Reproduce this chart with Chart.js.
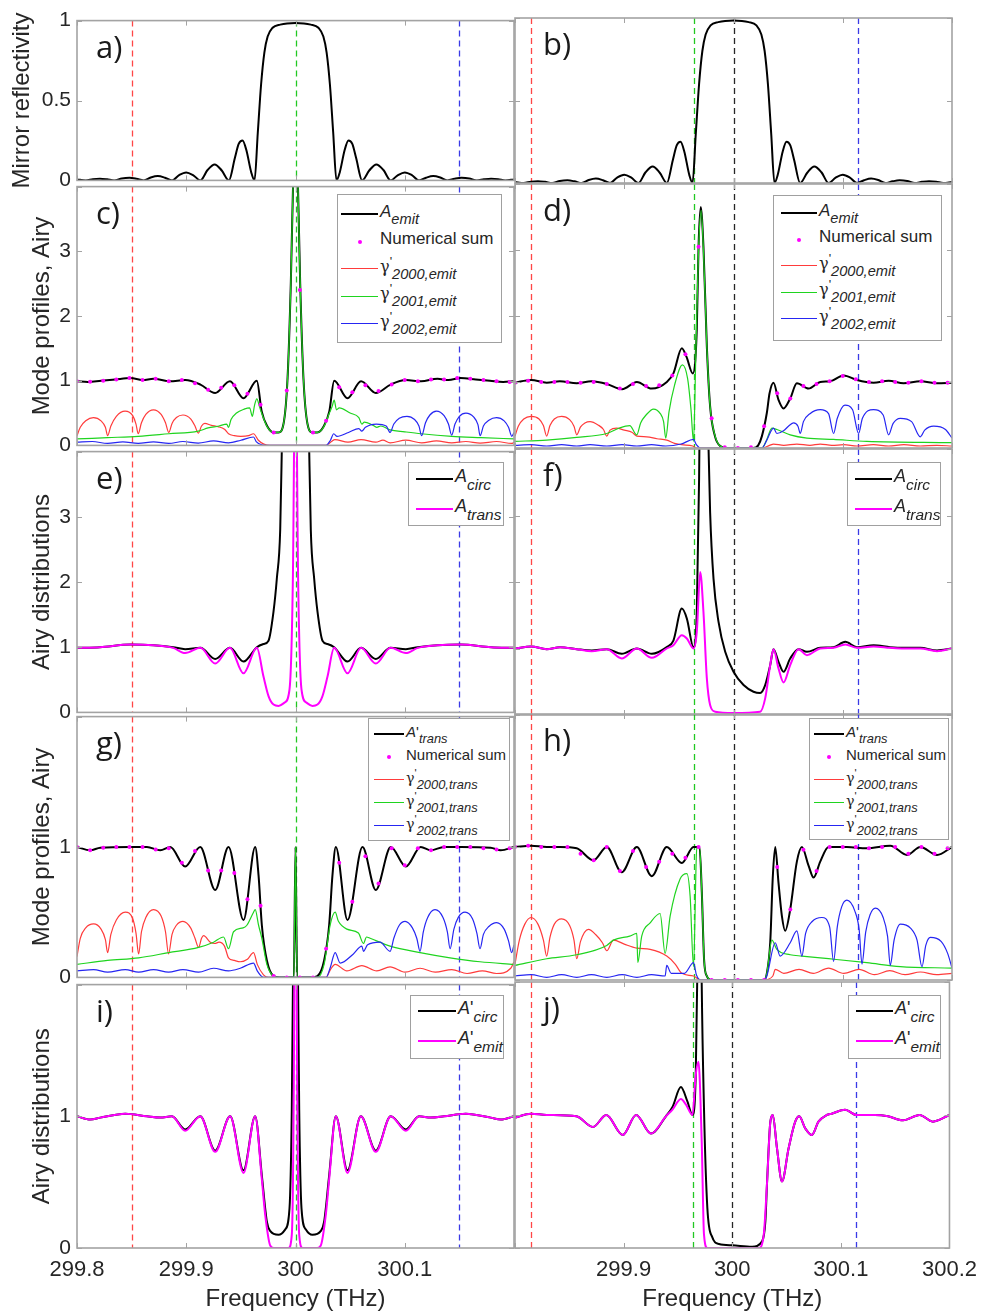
<!DOCTYPE html>
<html>
<head>
<meta charset="utf-8">
<script src="https://cdn.jsdelivr.net/npm/chart.js@4.4.1/dist/chart.umd.min.js"></script>
<style>
  body { margin: 0; width: 984px; height: 1315px; position: relative; overflow: hidden; background: #fff; }
  canvas { position: absolute; }
  .legend { position: absolute; box-sizing: border-box; background: #fff; border: 1px solid #a0a0a0; z-index: 5;
            color: #262626; font-family: 'Liberation Sans', Arial, sans-serif; }
  .legend .row { position: absolute; left: 0; right: 0; height: 0; }
  .legend .sw { position: absolute; top: -1px; height: 0; }
  .legend .dot { position: absolute; top: -2px; width: 4px; height: 4px; border-radius: 50%; }
  .legend .txt { position: absolute; top: -0.72em; line-height: 1.2; white-space: nowrap; }
  .legend .gam { font-family: 'DejaVu Serif', serif; font-size: 0.95em; }
  .legend sub { font-style: italic; font-size: 0.86em; vertical-align: -0.5em; line-height: 0; }
  .legend sup { font-size: 0.75em; vertical-align: 0.5em; line-height: 0; }
</style>
</head>
<body>
<script>
// axes
const xTicks = [299.8, 299.9, 300, 300.1, 300.2];
const xShownLeft = [299.8, 299.9, 300, 300.1];
const xShownRight = [299.9, 300, 300.1, 300.2];
const reflTicks = [0, 0.5, 1];
const profTicks = [0, 1, 2, 3, 4];
const profShown = [0, 1, 2, 3];
const primeTicks = [0, 1, 2];
const primeShown = [0, 1];

// frequency markers (dashed lines)
const leftMarks = [299.85, 300.0, 300.15];
const leftMarkColors = ['#ff4646', '#22c822', '#3a3ae6'];
const rightMarks = [299.815, 299.964, 300.0, 300.114];
const rightMarkColors = ['#ff4646', '#22c822', '#262626', '#3a3ae6'];

// curves: flat [frequency THz, value, ...] lists
const reflectivity = [299.800,0.006, 299.808,0, 299.8145,0.008, 299.821,0.011, 299.8275,0.007, 299.834,0, 299.841,0.012, 299.848,0.016,
  299.8545,0.010, 299.861,0, 299.8675,0.018, 299.874,0.027, 299.8805,0.017, 299.887,0, 299.8935,0.033, 299.900,0.050, 299.9065,0.032,
  299.913,0, 299.9195,0.065, 299.926,0.100, 299.9325,0.062, 299.939,0, 299.9445,0.140, 299.948,0.228, 299.9515,0.250, 299.955,0.190,
  299.9595,0.050, 299.9625,0, 299.9655,0.30, 299.9685,0.60, 299.9715,0.80, 299.9745,0.90, 299.979,0.955, 299.986,0.975, 300.000,0.985,
  300.014,0.975, 300.021,0.955, 300.0255,0.90, 300.0285,0.80, 300.0315,0.60, 300.0345,0.30, 300.0375,0, 300.0405,0.050, 300.045,0.190,
  300.0485,0.250, 300.052,0.228, 300.0555,0.140, 300.061,0, 300.0675,0.062, 300.074,0.100, 300.0805,0.065, 300.087,0, 300.0935,0.032,
  300.100,0.050, 300.1065,0.033, 300.113,0, 300.1195,0.017, 300.126,0.027, 300.1325,0.018, 300.139,0, 300.1455,0.010, 300.152,0.016,
  300.159,0.012, 300.166,0, 300.1725,0.007, 300.179,0.011, 300.1855,0.008, 300.192,0, 300.200,0.006];

const emitC = [299.800,0.99, 299.810,0.98, 299.822,1.00, 299.835,1.02, 299.849,1.04, 299.860,1.01, 299.870,1.03, 299.885,0.99,
  299.899,1.01, 299.913,0.94, 299.9265,0.81, 299.940,0.99, 299.9524,0.73, 299.9646,1.00, 299.969,0.53, 299.974,0.30, 299.980,0.20,
  299.9845,0.20, 299.989,0.33, 299.9927,1.03, 299.9957,2.50, 299.998,4.20, 300.000,6.00, 300.002,4.20, 300.0043,2.50, 300.0073,1.03,
  300.011,0.33, 300.0155,0.20, 300.020,0.20, 300.026,0.30, 300.031,0.53, 300.0354,1.00, 300.0476,0.73, 300.060,0.99, 300.0735,0.81,
  300.087,0.94, 300.101,1.01, 300.115,0.99, 300.130,1.03, 300.140,1.01, 300.151,1.04, 300.165,1.02, 300.178,1.00, 300.190,0.98, 300.200,0.99];
const g2000C = [299.800,0.15, 299.803,0.28, 299.808,0.38, 299.815,0.43, 299.822,0.38, 299.826,0.28, 299.828,0.15, 299.831,0.30,
  299.836,0.45, 299.844,0.53, 299.851,0.46, 299.854,0.33, 299.856,0.18, 299.859,0.35, 299.863,0.48, 299.870,0.55, 299.877,0.48,
  299.881,0.35, 299.884,0.20, 299.887,0.34, 299.891,0.43, 299.897,0.47, 299.904,0.41, 299.908,0.30, 299.911,0.19, 299.914,0.30,
  299.917,0.34, 299.923,0.31, 299.929,0.29, 299.935,0.25, 299.9387,0.18, 299.944,0.15, 299.950,0.14, 299.957,0.15, 299.9616,0.18,
  299.966,0.08, 299.971,0.02, 299.977,0, 300.028,0, 300.033,0.06, 300.036,0.09, 300.048,0.05, 300.060,0.09, 300.0735,0.05, 300.080,0.08,
  300.0866,0.04, 300.101,0.08, 300.1155,0.04, 300.129,0.07, 300.143,0.04, 300.156,0.06, 300.169,0.035, 300.184,0.06, 300.198,0.03, 300.200,0.05];
const g2001C = [299.800,0.10, 299.828,0.12, 299.856,0.14, 299.884,0.18, 299.911,0.22, 299.920,0.27, 299.930,0.30, 299.937,0.33,
  299.9387,0.28, 299.941,0.40, 299.946,0.50, 299.953,0.56, 299.958,0.58, 299.9605,0.45, 299.9625,0.62, 299.9646,0.72, 299.967,0.60,
  299.969,0.50, 299.974,0.29, 299.980,0.20, 299.9845,0.20, 299.989,0.33, 299.9927,1.03, 299.9957,2.50, 299.998,4.20, 300.000,6.00,
  300.002,4.20, 300.0043,2.50, 300.0073,1.03, 300.011,0.33, 300.0155,0.20, 300.020,0.20, 300.026,0.29, 300.031,0.50, 300.0335,0.60,
  300.0354,0.70, 300.0375,0.55, 300.040,0.58, 300.050,0.50, 300.058,0.43, 300.0607,0.33, 300.063,0.36, 300.070,0.32, 300.0744,0.28,
  300.078,0.30, 300.0866,0.24, 300.100,0.21, 300.115,0.18, 300.143,0.14, 300.170,0.12, 300.200,0.10];
const g2002C = [299.800,0.05, 299.814,0.06, 299.828,0.03, 299.842,0.055, 299.856,0.03, 299.870,0.055, 299.884,0.03, 299.897,0.06,
  299.911,0.035, 299.925,0.07, 299.9387,0.04, 299.950,0.08, 299.9616,0.13, 299.964,0.06, 299.969,0.01, 299.975,0, 300.028,0, 300.032,0.08,
  300.035,0.18, 300.038,0.14, 300.0485,0.20, 300.058,0.26, 300.0607,0.22, 300.064,0.28, 300.074,0.33, 300.083,0.30, 300.0866,0.20,
  300.090,0.33, 300.095,0.42, 300.102,0.45, 300.109,0.40, 300.113,0.30, 300.1155,0.15, 300.119,0.35, 300.123,0.47, 300.129,0.53,
  300.136,0.46, 300.140,0.33, 300.143,0.16, 300.146,0.33, 300.150,0.45, 300.156,0.50, 300.163,0.44, 300.167,0.32, 300.169,0.15,
  300.172,0.30, 300.177,0.39, 300.184,0.43, 300.191,0.38, 300.195,0.28, 300.198,0.14, 300.200,0.20];

const emitD = [299.800,0.99, 299.8147,1.03, 299.829,0.99, 299.841,1.01, 299.8565,0.98, 299.870,1.01, 299.884,0.97, 299.898,0.89,
  299.9115,1.00, 299.925,0.90, 299.939,1.00, 299.945,1.13, 299.9527,1.51, 299.957,1.38, 299.9627,1.13, 299.9664,1.80, 299.968,3.05,
  299.970,3.65, 299.9725,3.05, 299.9756,1.54, 299.9786,0.63, 299.983,0.18, 299.9878,0.03, 299.994,0, 300.018,0, 300.0226,0.04,
  300.026,0.18, 300.0305,0.53, 300.033,0.83, 300.0366,0.99, 300.0412,0.73, 300.0458,0.60, 300.0519,0.75, 300.058,0.98, 300.0687,0.90,
  300.0794,1.00, 300.0885,1.01, 300.1008,1.10, 300.113,1.03, 300.1282,0.99, 300.142,1.02, 300.1557,0.98, 300.171,1.01, 300.1863,0.98, 300.200,0.99];
const g2000D = [299.800,0.18, 299.803,0.33, 299.808,0.44, 299.8147,0.48, 299.822,0.44, 299.826,0.34, 299.829,0.18, 299.832,0.34,
  299.836,0.44, 299.8427,0.48, 299.850,0.43, 299.854,0.33, 299.8565,0.20, 299.860,0.32, 299.864,0.38, 299.8687,0.40, 299.876,0.35,
  299.881,0.28, 299.884,0.18, 299.887,0.27, 299.893,0.30, 299.900,0.27, 299.907,0.24, 299.9115,0.18, 299.9206,0.17, 299.930,0.14,
  299.9389,0.12, 299.946,0.07, 299.9527,0.05, 299.9627,0.03, 299.966,0, 300.026,0, 300.033,0.04, 300.0366,0.06, 300.046,0.04,
  300.058,0.06, 300.070,0.04, 300.0794,0.06, 300.090,0.04, 300.101,0.05, 300.113,0.03, 300.128,0.05, 300.142,0.03, 300.156,0.05,
  300.171,0.03, 300.186,0.04, 300.200,0.03];
const g2001D = [299.800,0.10, 299.829,0.12, 299.8565,0.16, 299.884,0.22, 299.895,0.30, 299.905,0.34, 299.9115,0.20, 299.915,0.38,
  299.920,0.50, 299.9267,0.59, 299.933,0.52, 299.936,0.40, 299.938,0.15, 299.941,0.55, 299.946,0.95, 299.9533,1.26, 299.958,1.05,
  299.961,0.60, 299.9634,0.10, 299.9655,1.40, 299.968,3.00, 299.9704,3.60, 299.9725,3.00, 299.9756,1.54, 299.9786,0.63, 299.9832,0.18,
  299.9878,0.03, 299.994,0, 300.026,0, 300.0305,0.13, 300.0351,0.30, 300.0397,0.28, 300.0519,0.20, 300.0672,0.15, 300.0916,0.13,
  300.1221,0.10, 300.200,0.08];
const g2002D = [299.800,0.04, 299.8147,0.05, 299.829,0.03, 299.8427,0.05, 299.8565,0.03, 299.8687,0.05, 299.884,0.03, 299.898,0.05,
  299.9115,0.03, 299.925,0.05, 299.938,0.03, 299.952,0.06, 299.9634,0.13, 299.966,0.05, 299.970,0, 300.026,0, 300.0305,0.12,
  300.0366,0.30, 300.0397,0.22, 300.0458,0.26, 300.051,0.34, 300.055,0.38, 300.059,0.33, 300.0611,0.22, 300.064,0.40, 300.070,0.52,
  300.0794,0.58, 300.087,0.52, 300.0916,0.22, 300.095,0.45, 300.102,0.65, 300.109,0.58, 300.1145,0.22, 300.118,0.45, 300.1282,0.58,
  300.137,0.50, 300.142,0.20, 300.146,0.37, 300.1527,0.45, 300.163,0.40, 300.171,0.17, 300.175,0.27, 300.1832,0.33, 300.194,0.28, 300.200,0.15];

const circE = [299.800,0.99, 299.821,1.00, 299.849,1.04, 299.870,1.03, 299.888,1.00, 299.899,0.97, 299.913,0.99, 299.9265,0.82,
  299.940,0.99, 299.9524,0.78, 299.9646,1.00, 299.9707,1.05, 299.9753,1.10, 299.9799,1.55, 299.9829,2.05, 299.986,2.80, 299.988,4.50,
  299.993,8.00, 300.000,12.0, 300.007,8.00, 300.012,4.50, 300.014,2.80, 300.0171,2.05, 300.0201,1.55, 300.0247,1.10, 300.0293,1.05,
  300.0354,1.00, 300.0476,0.78, 300.060,0.99, 300.0735,0.82, 300.087,0.99, 300.101,0.97, 300.112,1.00, 300.130,1.03, 300.151,1.04,
  300.179,1.00, 300.200,0.99];
const transE = [299.800,0.99, 299.821,1.00, 299.849,1.04, 299.870,1.03, 299.888,0.99, 299.899,0.91, 299.913,0.99, 299.9265,0.75,
  299.940,0.99, 299.9524,0.60, 299.9646,0.99, 299.9707,0.55, 299.9753,0.25, 299.9799,0.12, 299.9845,0.10, 299.990,0.15, 299.9945,0.35,
  299.9976,2.05, 300.000,6.00, 300.0024,2.05, 300.0055,0.35, 300.010,0.15, 300.0155,0.10, 300.0201,0.12, 300.0247,0.25, 300.0293,0.55,
  300.0354,0.99, 300.0476,0.60, 300.060,0.99, 300.0735,0.75, 300.087,0.99, 300.101,0.91, 300.112,0.99, 300.130,1.03, 300.151,1.04,
  300.179,1.00, 300.200,0.99];

const circF = [299.800,1.00, 299.8147,1.03, 299.829,0.99, 299.8412,1.02, 299.8565,0.99, 299.8702,0.97, 299.884,0.99, 299.8977,0.92,
  299.9115,1.00, 299.9252,0.92, 299.9389,1.02, 299.945,1.12, 299.9527,1.60, 299.9573,1.45, 299.9634,1.02, 299.9664,1.55, 299.9685,3.55,
  299.970,6.00, 299.974,8.00, 299.976,5.00, 299.9771,4.05, 299.9786,3.05, 299.9817,2.05, 299.9863,1.40, 299.9924,0.95, 300.000,0.65,
  300.0092,0.45, 300.0183,0.35, 300.0244,0.33, 300.029,0.45, 300.0336,0.75, 300.0366,0.99, 300.0412,0.80, 300.0458,0.65, 300.0519,0.85,
  300.0595,0.99, 300.0672,0.95, 300.0794,1.01, 300.0916,1.02, 300.1023,1.10, 300.113,1.02, 300.1282,1.05, 300.1435,1.02, 300.1557,1.01,
  300.171,1.01, 300.1863,0.97, 300.200,1.00];
const transF = [299.800,1.00, 299.8147,1.03, 299.829,0.99, 299.8412,1.02, 299.8565,0.99, 299.8702,0.96, 299.884,0.99, 299.8977,0.85,
  299.9115,1.00, 299.9252,0.86, 299.9389,1.00, 299.945,1.05, 299.9527,1.20, 299.9573,1.15, 299.9634,1.00, 299.9664,1.25, 299.9695,2.15,
  299.9725,1.55, 299.9756,0.55, 299.9786,0.15, 299.9832,0.05, 300.000,0.03, 300.0244,0.05, 300.029,0.25, 300.0336,0.75, 300.0366,0.99,
  300.0412,0.70, 300.0458,0.49, 300.0519,0.75, 300.0595,0.99, 300.0672,0.90, 300.0794,1.00, 300.0916,1.01, 300.1023,1.06, 300.113,1.01,
  300.1282,1.03, 300.1435,1.01, 300.1557,1.00, 300.171,1.00, 300.1863,0.96, 300.200,1.00];

const transG = [299.800,1.00, 299.8122,0.975, 299.8213,0.995, 299.8488,1.00, 299.864,1.00, 299.8762,0.975, 299.8854,1.00, 299.899,0.85,
  299.9128,1.00, 299.9265,0.67, 299.9387,1.00, 299.9524,0.44, 299.9631,1.00, 299.9662,0.78, 299.9692,0.40, 299.9738,0.13, 299.9799,0.01,
  299.985,0, 299.9985,0, 300.000,1.00, 300.0015,0, 300.015,0, 300.0201,0.01, 300.0262,0.13, 300.0308,0.40, 300.0338,0.78, 300.0369,1.00,
  300.0476,0.44, 300.0613,1.00, 300.0735,0.67, 300.0872,1.00, 300.101,0.85, 300.1146,1.00, 300.1238,0.975, 300.136,1.00, 300.1512,1.00,
  300.1787,0.995, 300.1878,0.975, 300.200,1.00];
const g2000G = [299.800,0.16, 299.803,0.30, 299.808,0.38, 299.8152,0.41, 299.822,0.37, 299.826,0.29, 299.828,0.19, 299.831,0.33,
  299.836,0.44, 299.8442,0.50, 299.851,0.45, 299.854,0.34, 299.8564,0.18, 299.859,0.35, 299.863,0.46, 299.8701,0.52, 299.877,0.47,
  299.881,0.35, 299.8838,0.18, 299.887,0.33, 299.891,0.40, 299.897,0.43, 299.904,0.38, 299.908,0.30, 299.9113,0.23, 299.914,0.30,
  299.9159,0.32, 299.922,0.27, 299.926,0.26, 299.930,0.27, 299.935,0.24, 299.9387,0.15, 299.944,0.13, 299.9494,0.12, 299.956,0.14,
  299.9616,0.19, 299.965,0.10, 299.9707,0.02, 299.975,0, 300.028,0, 300.032,0.06, 300.0363,0.10, 300.047,0.05, 300.0607,0.09,
  300.0744,0.05, 300.0866,0.08, 300.1003,0.04, 300.114,0.07, 300.128,0.04, 300.143,0.06, 300.157,0.03, 300.171,0.05, 300.184,0.03,
  300.197,0.07, 300.200,0.12];
const g2001G = [299.800,0.10, 299.828,0.13, 299.8564,0.15, 299.8838,0.19, 299.9113,0.23, 299.925,0.27, 299.9341,0.31, 299.9387,0.22,
  299.9433,0.35, 299.952,0.38, 299.9555,0.40, 299.9616,0.50, 299.9631,0.52, 299.9662,0.40, 299.9692,0.30, 299.9738,0.10, 299.9799,0.01,
  299.985,0, 299.9985,0, 300.000,1.00, 300.0015,0, 300.020,0, 300.0262,0.10, 300.0317,0.40, 300.0363,0.50, 300.0393,0.43, 300.047,0.37,
  300.0576,0.34, 300.0622,0.26, 300.065,0.31, 300.0683,0.30, 300.0866,0.24, 300.114,0.19, 300.1415,0.15, 300.1689,0.12, 300.200,0.10];
const g2002G = [299.800,0.05, 299.8152,0.06, 299.828,0.04, 299.8442,0.06, 299.8564,0.04, 299.8701,0.06, 299.8838,0.04, 299.897,0.06,
  299.9113,0.04, 299.925,0.07, 299.9387,0.05, 299.9494,0.07, 299.9616,0.11, 299.965,0.05, 299.9707,0, 300.028,0, 300.032,0.08,
  300.0363,0.19, 300.0409,0.11, 300.053,0.18, 300.0607,0.24, 300.0622,0.20, 300.066,0.25, 300.0774,0.27, 300.0866,0.20, 300.090,0.30,
  300.095,0.40, 300.1003,0.43, 300.107,0.38, 300.111,0.30, 300.114,0.20, 300.117,0.35, 300.121,0.46, 300.1277,0.52, 300.135,0.46,
  300.139,0.35, 300.1415,0.22, 300.145,0.37, 300.149,0.46, 300.1552,0.50, 300.162,0.45, 300.166,0.34, 300.1689,0.22, 300.172,0.33,
  300.177,0.39, 300.1841,0.42, 300.191,0.37, 300.195,0.28, 300.1979,0.19, 300.200,0.25];

const transH = [299.800,1.00, 299.8147,1.01, 299.829,1.00, 299.8412,1.00, 299.8565,0.99, 299.8718,0.90, 299.884,1.00, 299.8977,0.81,
  299.9115,1.00, 299.9252,0.78, 299.9389,1.00, 299.9527,0.88, 299.9634,1.00, 299.9689,1.00, 299.971,0.66, 299.9731,0.15, 299.9756,0.03,
  299.980,0, 300.028,0, 300.0305,0.05, 300.0336,0.28, 300.036,0.78, 300.0382,1.00, 300.0412,0.73, 300.0443,0.48, 300.0473,0.37,
  300.0519,0.53, 300.058,0.89, 300.0626,1.00, 300.0687,0.86, 300.0733,0.77, 300.0794,0.89, 300.087,1.00, 300.1038,1.00, 300.1221,0.99,
  300.1435,1.01, 300.1588,0.94, 300.171,1.00, 300.1863,0.94, 300.200,1.00];
const g2000H = [299.800,0.12, 299.804,0.30, 299.809,0.42, 299.8147,0.47, 299.821,0.42, 299.826,0.30, 299.829,0.18, 299.832,0.32,
  299.836,0.42, 299.8427,0.46, 299.850,0.41, 299.854,0.30, 299.8565,0.16, 299.860,0.29, 299.8672,0.38, 299.874,0.34, 299.880,0.28,
  299.884,0.22, 299.8901,0.30, 299.900,0.27, 299.9115,0.24, 299.9237,0.23, 299.9389,0.18, 299.9466,0.12, 299.9527,0.05, 299.9634,0.03,
  299.970,0, 300.028,0, 300.036,0.03, 300.0382,0.08, 300.046,0.05, 300.060,0.08, 300.073,0.05, 300.087,0.09, 300.101,0.05, 300.115,0.08,
  300.129,0.04, 300.143,0.07, 300.157,0.04, 300.171,0.06, 300.186,0.04, 300.200,0.05];
const g2001H = [299.800,0.11, 299.829,0.16, 299.8565,0.19, 299.884,0.26, 299.8901,0.30, 299.905,0.33, 299.9115,0.35, 299.9124,0.13,
  299.916,0.33, 299.9237,0.43, 299.9328,0.50, 299.9374,0.20, 299.942,0.48, 299.9511,0.76, 299.9573,0.80, 299.9603,0.63, 299.9634,0.10,
  299.9664,0.99, 299.9689,1.00, 299.971,0.66, 299.9731,0.15, 299.9756,0.03, 299.980,0, 300.028,0, 300.0305,0.05, 300.0351,0.30,
  300.0397,0.23, 300.0519,0.19, 300.0626,0.18, 300.087,0.16, 300.1221,0.13, 300.1527,0.10, 300.200,0.09];
const g2002H = [299.800,0.03, 299.8147,0.04, 299.829,0.02, 299.8427,0.04, 299.8565,0.02, 299.870,0.04, 299.884,0.02, 299.898,0.04,
  299.9115,0.02, 299.925,0.04, 299.9374,0.03, 299.9389,0.11, 299.943,0.05, 299.955,0.05, 299.9634,0.13, 299.966,0.04, 299.970,0,
  300.028,0, 300.0305,0.03, 300.0382,0.28, 300.0427,0.18, 300.0519,0.28, 300.058,0.37, 300.0626,0.18, 300.066,0.35, 300.072,0.44,
  300.0809,0.47, 300.088,0.40, 300.0916,0.14, 300.095,0.40, 300.099,0.55, 300.1038,0.60, 300.111,0.52, 300.115,0.38, 300.1176,0.12,
  300.121,0.36, 300.125,0.49, 300.1298,0.54, 300.137,0.47, 300.141,0.33, 300.1435,0.11, 300.147,0.30, 300.1527,0.42, 300.162,0.39,
  300.168,0.30, 300.1725,0.10, 300.176,0.26, 300.1802,0.32, 300.190,0.29, 300.196,0.20, 300.200,0.09];

const circI = [299.800,1.00, 299.8122,0.975, 299.8213,0.99, 299.8442,1.02, 299.864,1.00, 299.8762,0.99, 299.8869,1.00, 299.899,0.90,
  299.9128,1.00, 299.9265,0.74, 299.9402,1.00, 299.9524,0.59, 299.9631,1.00, 299.9692,0.55, 299.9738,0.20, 299.9768,0.13, 299.9845,0.10,
  299.9905,0.14, 299.9945,0.30, 299.9966,1.05, 299.9982,2.50, 300.000,5.00, 300.0018,2.50, 300.0034,1.05, 300.0055,0.30, 300.0095,0.14,
  300.0155,0.10, 300.0232,0.13, 300.0262,0.20, 300.0308,0.55, 300.0369,1.00, 300.0476,0.59, 300.0598,1.00, 300.0735,0.74, 300.0872,1.00,
  300.101,0.90, 300.1131,1.00, 300.1238,0.99, 300.136,1.00, 300.1558,1.02, 300.1787,0.99, 300.1878,0.975, 300.200,1.00];
const emitI = [299.800,1.00, 299.8122,0.975, 299.8213,0.99, 299.8442,1.02, 299.864,1.00, 299.8762,0.99, 299.8869,1.00, 299.899,0.89,
  299.9128,1.00, 299.9265,0.73, 299.9402,1.00, 299.9524,0.57, 299.9631,1.00, 299.9692,0.52, 299.9723,0.25, 299.9768,0.02, 299.980,0,
  299.9936,0, 299.9966,0.10, 299.9988,1.80, 300.000,5.00, 300.0012,1.80, 300.0034,0.10, 300.0064,0, 300.020,0, 300.0232,0.02,
  300.0277,0.25, 300.0308,0.52, 300.0369,1.00, 300.0476,0.57, 300.0598,1.00, 300.0735,0.73, 300.0872,1.00, 300.101,0.89, 300.1131,1.00,
  300.1238,0.99, 300.136,1.00, 300.1558,1.02, 300.1787,0.99, 300.1878,0.975, 300.200,1.00];

const circJ = [299.800,0.98, 299.8147,1.01, 299.829,1.00, 299.8565,0.99, 299.8718,0.91, 299.884,1.00, 299.8992,0.85, 299.9115,1.00,
  299.9252,0.86, 299.9389,0.99, 299.945,1.06, 299.9527,1.21, 299.9588,1.10, 299.9634,1.00, 299.9664,1.30, 299.9685,2.40, 299.970,4.00,
  299.9716,2.20, 299.974,1.05, 299.9771,0.30, 299.9817,0.08, 299.9878,0.03, 300.000,0.02, 300.0183,0.01, 300.0275,0.05, 300.0305,0.20,
  300.0321,0.50, 300.0351,0.95, 300.0373,1.00, 300.0412,0.75, 300.0458,0.50, 300.0519,0.75, 300.058,0.95, 300.0617,0.99, 300.0672,0.90,
  300.0733,0.85, 300.0794,0.95, 300.087,1.00, 300.0916,1.01, 300.1038,1.04, 300.1145,1.00, 300.1313,1.00, 300.1435,0.99, 300.1573,0.96,
  300.1725,1.00, 300.1847,0.95, 300.200,1.00];
const emitJ = [299.800,0.98, 299.8147,1.01, 299.829,1.00, 299.8565,0.99, 299.8718,0.91, 299.884,1.00, 299.8992,0.85, 299.9115,1.00,
  299.9252,0.86, 299.9389,0.99, 299.945,1.04, 299.9527,1.12, 299.9573,1.08, 299.9634,1.00, 299.9664,1.30, 299.9689,1.40, 299.9719,0.80,
  299.974,0.10, 299.9771,0, 300.0244,0, 300.029,0.10, 300.0321,0.50, 300.0351,0.95, 300.0373,1.00, 300.0412,0.75, 300.0458,0.50,
  300.0519,0.75, 300.058,0.95, 300.0617,0.99, 300.0672,0.90, 300.0733,0.85, 300.0794,0.95, 300.087,1.00, 300.0916,1.01, 300.1038,1.04,
  300.1145,1.00, 300.1313,1.00, 300.1435,0.99, 300.1573,0.96, 300.1725,1.00, 300.1847,0.95, 300.200,1.00];

// numerical sum, sampled frequencies and values
const sumFreq = [299.800, 299.812, 299.824, 299.836, 299.848, 299.860, 299.872, 299.884, 299.896, 299.908, 299.920, 299.932,
  299.944, 299.956, 299.968, 299.980, 299.992, 300.004, 300.016, 300.028, 300.040, 300.052, 300.064, 300.076, 300.088, 300.100,
  300.112, 300.124, 300.136, 300.148, 300.160, 300.172, 300.184, 300.196];
const sumC = [0.99, 0.985, 1.00, 1.02, 1.04, 1.01, 1.03, 0.99, 1.01, 0.96, 0.86, 0.89, 0.93, 0.80, 0.63, 0.20, 0.85, 2.40, 0.20,
  0.38, 0.90, 0.82, 0.93, 0.84, 0.94, 1.01, 0.99, 1.02, 1.02, 1.04, 1.03, 1.01, 0.99, 0.98];
const sumD = [0.99, 1.02, 1.00, 1.00, 1.00, 0.99, 1.00, 0.97, 0.90, 0.97, 0.94, 0.95, 1.10, 1.42, 3.05, 0.45, 0.01, 0.00, 0.01,
  0.33, 0.83, 0.75, 0.94, 0.97, 1.01, 1.09, 1.04, 1.00, 1.01, 1.00, 0.99, 1.01, 0.99, 0.99];
const sumG = [1.00, 0.975, 0.995, 1.00, 1.00, 1.00, 0.98, 0.99, 0.88, 0.97, 0.82, 0.82, 0.80, 0.60, 0.55, 0.01, 0.00, 0.00, 0.00,
  0.22, 0.88, 0.58, 0.93, 0.72, 0.99, 0.86, 0.99, 0.975, 1.00, 1.00, 1.00, 0.99, 0.98, 0.99];
const sumH = [1.00, 1.01, 1.00, 1.00, 1.00, 0.95, 0.90, 1.00, 0.82, 0.97, 0.85, 0.89, 0.95, 0.92, 1.00, 0.00, 0.00, 0.00, 0.00,
  0.00, 0.85, 0.53, 0.98, 0.82, 1.00, 1.00, 1.00, 0.99, 1.00, 1.00, 0.95, 1.00, 0.95, 0.99];

Chart.defaults.font.family = "'Liberation Sans', Arial, sans-serif";
Chart.defaults.color = '#262626';

const STYLE = {
  black:   { borderColor: '#000000', borderWidth: 2 },
  magenta: { borderColor: '#ff00ff', borderWidth: 2 },
  red:     { borderColor: '#ff3b3b', borderWidth: 1.2 },
  green:   { borderColor: '#1fd41f', borderWidth: 1.2 },
  blue:    { borderColor: '#2626f2', borderWidth: 1.2 }
};

function pts(flat) {
  const out = [];
  for (let i = 0; i < flat.length; i += 2) out.push({ x: flat[i], y: flat[i + 1] });
  return out;
}

function line(flat, color, order, main, sub) {
  return Object.assign({
    label: main ? (main + sub).replace(/<[^>]+>/g, '') : 'R',
    data: pts(flat), order: order, main: main, sub: sub,
    pointRadius: 0, fill: false, cubicInterpolationMode: 'monotone', borderJoinStyle: 'round'
  }, STYLE[color]);
}

function sumDots(values) {
  return {
    label: 'Numerical sum', main: 'Numerical sum', sub: '', order: 0,
    data: sumFreq.map((f, i) => ({ x: f, y: values[i] })),
    showLine: false, pointRadius: 2, pointBorderWidth: 0,
    pointBackgroundColor: '#ff00ff', backgroundColor: '#ff00ff', borderColor: '#ff00ff'
  };
}

const fmt = v => (Math.round(v * 10) / 10).toString();

// dashed markers, frame with inward ticks, panel letter
const decor = {
  id: 'decor',
  beforeDatasetsDraw(chart, args, opts) {
    const { ctx, chartArea: a, scales: { x } } = chart;
    ctx.save();
    ctx.beginPath(); ctx.rect(a.left, a.top, a.width, a.height); ctx.clip();
    ctx.setLineDash([6, 4]);
    ctx.lineWidth = 1.3;
    opts.marks.forEach((f, i) => {
      const px = Math.round(x.getPixelForValue(f)) + 0.5;
      ctx.strokeStyle = opts.colors[i];
      ctx.beginPath(); ctx.moveTo(px, a.top); ctx.lineTo(px, a.bottom); ctx.stroke();
    });
    ctx.restore();
  },
  afterDatasetsDraw(chart) {
    const { ctx, chartArea: a, scales: { x, y } } = chart;
    ctx.save();
    ctx.strokeStyle = '#a3a3a3';
    ctx.lineWidth = 1;
    ctx.beginPath();
    x.ticks.forEach(t => {
      const px = Math.round(x.getPixelForValue(t.value)) + 0.5;
      ctx.moveTo(px, a.bottom); ctx.lineTo(px, a.bottom - 5);
      ctx.moveTo(px, a.top); ctx.lineTo(px, a.top + 5);
    });
    y.ticks.forEach(t => {
      const py = Math.round(y.getPixelForValue(t.value)) + 0.5;
      ctx.moveTo(a.left, py); ctx.lineTo(a.left + 5, py);
      ctx.moveTo(a.right, py); ctx.lineTo(a.right - 5, py);
    });
    ctx.stroke();
    ctx.lineWidth = 1.6;
    ctx.strokeRect(a.left, a.top, a.width, a.height);
    ctx.restore();
  },
  afterDraw(chart, args, opts) {
    const { ctx, chartArea: a } = chart;
    ctx.save();
    ctx.font = '31px "Open Sans"';
    ctx.fillStyle = '#1a1a1a';
    ctx.textBaseline = 'alphabetic';
    ctx.fillText(opts.letter, a.left + opts.dx, a.top + 37);
    ctx.restore();
  }
};

function legendBox(chart, box) {
  const div = document.createElement('div');
  div.className = 'legend';
  div.style.cssText = `left:${box.left}px;top:${box.top}px;width:${box.width}px;height:${box.height}px;font-size:${box.font}px`;
  chart.data.datasets.forEach((d, i) => {
    const row = document.createElement('div');
    row.className = 'row';
    row.style.top = (box.first + i * box.step) + 'px';
    const swatch = d.showLine === false
      ? `<span class="dot" style="left:${(box.sw[0] + box.sw[1]) / 2 - 2}px;background:${d.backgroundColor}"></span>`
      : `<span class="sw" style="left:${box.sw[0]}px;width:${box.sw[1] - box.sw[0]}px;border-top:${d.borderWidth > 1.5 ? 2 : 1.5}px solid ${d.borderColor}"></span>`;
    row.innerHTML = swatch + `<span class="txt" style="left:${box.text}px">${d.main}${d.sub ? '<sub>' + d.sub + '</sub>' : ''}</span>`;
    div.appendChild(row);
  });
  document.body.appendChild(div);
}

function panel(cfg, datasets, legend) {
  const isLeft = cfg.col === 0;
  const L = isLeft ? 77 : 515;
  const yw = isLeft ? 77 : 10;
  const padTop = 16, padRight = 34;
  const hx = cfg.xLabels ? 1315 - cfg.bottom : 16;
  const w = yw + 437 + padRight;
  const h = padTop + (cfg.bottom - cfg.top) + hx;
  const canvas = document.createElement('canvas');
  canvas.width = w; canvas.height = h;
  canvas.style.left = (L - yw) + 'px';
  canvas.style.top = (cfg.top - padTop) + 'px';
  canvas.style.width = w + 'px';
  canvas.style.height = h + 'px';
  document.body.appendChild(canvas);
  const xShown = isLeft ? xShownLeft : xShownRight;

  const chart = new Chart(canvas.getContext('2d'), {
    type: 'line',
    data: { datasets: datasets },
    options: {
      responsive: false,
      devicePixelRatio: 1,
      animation: false,
      events: [],
      layout: { padding: { top: padTop, right: padRight, left: 0, bottom: 0 } },
      scales: {
        x: {
          type: 'linear', min: 299.8, max: 300.2,
          afterBuildTicks: s => { s.ticks = xTicks.map(v => ({ value: v })); },
          afterFit: s => { s.height = hx; },
          grid: { display: false, drawTicks: false },
          border: { display: false },
          ticks: {
            display: !!cfg.xLabels, padding: 9, autoSkip: false, maxRotation: 0,
            font: { size: 22 }, color: '#262626',
            callback: v => (xShown.includes(v) ? fmt(v) : '')
          },
          title: {
            display: !!cfg.xLabels, text: 'Frequency (THz)', color: '#262626',
            font: { size: 24 }, padding: { top: 0, bottom: 1 }
          }
        },
        y: {
          type: 'linear', min: 0, max: cfg.yMax,
          afterBuildTicks: s => { s.ticks = cfg.yTicks.map(v => ({ value: v })); },
          afterFit: s => { s.width = yw; },
          grid: { display: false, drawTicks: false },
          border: { display: false },
          ticks: {
            display: isLeft, padding: 6, font: { size: 21 }, color: '#262626',
            callback: v => (cfg.yShown.includes(v) ? String(v) : '')
          },
          title: {
            display: isLeft, text: cfg.yTitle || '', color: '#262626',
            font: { size: 24 }, padding: { top: cfg.titlePad || 0, bottom: 0 }
          }
        }
      },
      plugins: {
        legend: { display: false },
        tooltip: { enabled: false },
        decor: {
          marks: isLeft ? leftMarks : rightMarks,
          colors: isLeft ? leftMarkColors : rightMarkColors,
          letter: cfg.letter,
          dx: isLeft ? 19 : 28
        }
      }
    },
    plugins: [decor]
  });
  if (legend) legendBox(chart, legend);
  return chart;
}

const A = '<i>A</i>', AP = "<i>A</i>'", G = "<span class=\"gam\">γ</span><sup>'</sup>";

// row 1: mirror reflectivity
panel({ col: 0, top: 18, bottom: 183, yMax: 1, yTicks: reflTicks, yShown: reflTicks, yTitle: 'Mirror reflectivity', titlePad: 8, letter: 'a)' },
  [line(reflectivity, 'black', 0)]);
panel({ col: 1, top: 18, bottom: 183, yMax: 1, yTicks: reflTicks, yShown: reflTicks, letter: 'b)' },
  [line(reflectivity, 'black', 0)]);

// row 2: mode profiles, emitted
panel({ col: 0, top: 184, bottom: 448, yMax: 4, yTicks: profTicks, yShown: profShown, yTitle: 'Mode profiles, Airy', titlePad: 28, letter: 'c)' },
  [line(emitC, 'black', 4, A, 'emit'), sumDots(sumC), line(g2000C, 'red', 3, G, '2000,emit'),
   line(g2001C, 'green', 2, G, '2001,emit'), line(g2002C, 'blue', 1, G, '2002,emit')],
  { left: 337, top: 194, width: 165, height: 149, font: 17, first: 19, step: 27.5, sw: [3, 40], text: 42 });
panel({ col: 1, top: 184, bottom: 448, yMax: 4, yTicks: profTicks, yShown: profShown, letter: 'd)' },
  [line(emitD, 'black', 4, A, 'emit'), sumDots(sumD), line(g2000D, 'red', 3, G, '2000,emit'),
   line(g2001D, 'green', 2, G, '2001,emit'), line(g2002D, 'blue', 1, G, '2002,emit')],
  { left: 773, top: 195, width: 169, height: 146, font: 17, first: 17, step: 26.5, sw: [7, 43], text: 45 });

// row 3: circulating / transmitted Airy distributions
panel({ col: 0, top: 449, bottom: 715, yMax: 4, yTicks: profTicks, yShown: profShown, yTitle: 'Airy distributions', titlePad: 28, letter: 'e)' },
  [line(circE, 'black', 1, A, 'circ'), line(transE, 'magenta', 0, A, 'trans')],
  { left: 408, top: 462, width: 96, height: 64, font: 18, first: 16, step: 30, sw: [7, 44], text: 46 });
panel({ col: 1, top: 449, bottom: 715, yMax: 4, yTicks: profTicks, yShown: profShown, letter: 'f)' },
  [line(circF, 'black', 1, A, 'circ'), line(transF, 'magenta', 0, A, 'trans')],
  { left: 847, top: 462, width: 94, height: 64, font: 18, first: 16, step: 30, sw: [7, 44], text: 46 });

// row 4: mode profiles, transmitted
panel({ col: 0, top: 714, bottom: 980, yMax: 2, yTicks: primeTicks, yShown: primeShown, yTitle: 'Mode profiles, Airy', titlePad: 28, letter: 'g)' },
  [line(transG, 'black', 4, AP, 'trans'), sumDots(sumG), line(g2000G, 'red', 3, G, '2000,trans'),
   line(g2001G, 'green', 2, G, '2001,trans'), line(g2002G, 'blue', 1, G, '2002,trans')],
  { left: 368, top: 718, width: 142, height: 123, font: 15, first: 15, step: 23, sw: [5, 35], text: 37 });
panel({ col: 1, top: 714, bottom: 980, yMax: 2, yTicks: primeTicks, yShown: primeShown, letter: 'h)' },
  [line(transH, 'black', 4, AP, 'trans'), sumDots(sumH), line(g2000H, 'red', 3, G, '2000,trans'),
   line(g2001H, 'green', 2, G, '2001,trans'), line(g2002H, 'blue', 1, G, '2002,trans')],
  { left: 809, top: 718, width: 140, height: 122, font: 15, first: 15, step: 23, sw: [4, 34], text: 36 });

// row 5: primed circulating / emitted Airy distributions
panel({ col: 0, top: 982, bottom: 1248, yMax: 2, yTicks: primeTicks, yShown: primeShown, yTitle: 'Airy distributions', titlePad: 28, letter: 'i)', xLabels: true },
  [line(circI, 'black', 1, AP, 'circ'), line(emitI, 'magenta', 0, AP, 'emit')],
  { left: 410, top: 995, width: 94, height: 64, font: 18, first: 15, step: 30, sw: [7, 45], text: 47 });
panel({ col: 1, top: 982, bottom: 1248, yMax: 2, yTicks: primeTicks, yShown: primeShown, letter: 'j)', xLabels: true },
  [line(circJ, 'black', 1, AP, 'circ'), line(emitJ, 'magenta', 0, AP, 'emit')],
  { left: 848, top: 995, width: 93, height: 64, font: 18, first: 15, step: 30, sw: [7, 44], text: 46 });
</script>
</body>
</html>
